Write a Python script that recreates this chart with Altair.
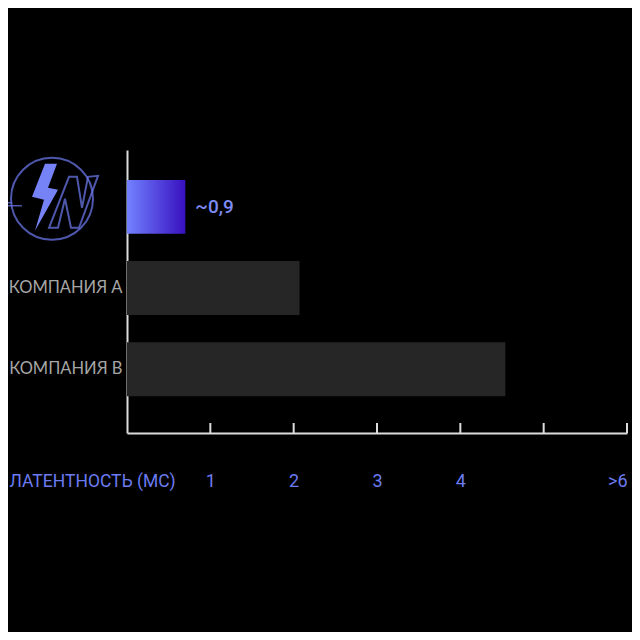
import altair as alt
import pandas as pd

# chart values
companies = ["logo", "КОМПАНИЯ А", "КОМПАНИЯ В"]
latency_ms = [0.7, 2.07, 4.54]
value_labels = ["~0,9", "", ""]
tick_values = [1, 2, 3, 4, 5, 6]
tick_labels = ["1", "2", "3", "4", "", ">6"]

source = pd.DataFrame({"company": companies, "latency": latency_ms, "label": value_labels})
ticks = pd.DataFrame({"latency": tick_values})

BLUE = "#6b7bf0"
AXIS = "#dcdcdc"

# x labels: 1..4, nothing at 5, ">6" at 6
label_expr = "''"
for v, t in zip(reversed(tick_values), reversed(tick_labels)):
    label_expr = f"datum.value == {v} ? '{t}' : ({label_expr})"

y_enc = alt.Y(
    "company:N",
    sort=companies,
    scale=alt.Scale(paddingInner=0.337, paddingOuter=0.411, align=0.448),
    axis=alt.Axis(
        title=None, ticks=False, domainColor=AXIS, domainWidth=2,
        labelExpr="datum.value == 'logo' ? '' : datum.label",
        labelColor="#a6a6a6", labelFont="Lato", labelFontSize=16.5, labelPadding=5,
    ),
)
x_enc = alt.X(
    "latency:Q",
    scale=alt.Scale(domain=[0, 6], nice=False),
    axis=alt.Axis(
        values=tick_values, labelExpr=label_expr, ticks=False, grid=False,
        domainColor=AXIS, domainWidth=2, labelFlush=True,
        labelColor=BLUE, labelFont="Roboto", labelFontSize=18, labelPadding=39,
        title="ЛАТЕНТНОСТЬ (МС)", titleColor=BLUE, titleFont="Roboto",
        titleFontSize=17.5, titleFontWeight="normal", titleX=-118, titleY=53.5,
        titleAlign="left", titleBaseline="alphabetic",
    ),
)

base = alt.Chart(source).encode(y=y_enc)

logo_bar = base.transform_filter(alt.datum.company == "logo").mark_bar(
    color=alt.Gradient(
        gradient="linear",
        stops=[alt.GradientStop(color="#7282ff", offset=0),
               alt.GradientStop(color="#3810c0", offset=1)],
        x1=0, x2=1, y1=0, y2=0,
    )
).encode(x=x_enc)

other_bars = base.transform_filter(alt.datum.company != "logo").mark_bar(
    color="#262626"
).encode(x=x_enc)

bar_text = base.mark_text(
    align="left", dx=10, font="Roboto", fontSize=19, fontWeight=500, color="#7d8cf5"
).encode(x=x_enc, text="label:N")

tick_rules = alt.Chart(ticks).mark_rule(color=AXIS, strokeWidth=2).encode(
    x=x_enc, y=alt.value(273), y2=alt.value(283)
)

# logo drawn in place of the first label (path units = px around logo centre)
bolt = "M-7,-35L5,-35L-4,-11L6,-9L-17,32L-8,1L-20,-2Z"
letter_n = "M-3,29L17,-22L25,-22L30,9L36,-22L46,-23L27,29L19,29L13,0L6,29Z"
plug = "M-47,4L-40,4M-49,7L-30,7"
logo_src = base.transform_filter(alt.datum.company == "logo")
logo_circle = logo_src.mark_point(
    shape="circle", size=6724, filled=False, color="#6f7df5", strokeWidth=2, yOffset=-8
).encode(x=alt.value(-75))
logo_bolt = logo_src.mark_point(
    shape=bolt, size=4, filled=True, color="#7583f7", opacity=1, yOffset=-8
).encode(x=alt.value(-75))
logo_n = logo_src.mark_point(
    shape=letter_n, size=4, filled=False, color="#6f7df5", strokeWidth=2, yOffset=-8
).encode(x=alt.value(-75))
logo_plug = logo_src.mark_point(
    shape=plug, size=4, filled=False, color="#6f7df5", strokeWidth=1.6, yOffset=-8
).encode(x=alt.value(-75))

chart = alt.layer(
    other_bars, logo_bar, bar_text, tick_rules,
    logo_circle, logo_bolt, logo_n, logo_plug,
).properties(
    width=500, height=283,
    autosize=alt.AutoSizeParams(type="none"),
    padding={"left": 119, "top": 142, "right": 5, "bottom": 199},
    background="black",
).configure_view(stroke=None)

chart.save("out.html", embed_options={"renderer": "svg", "actions": False})
